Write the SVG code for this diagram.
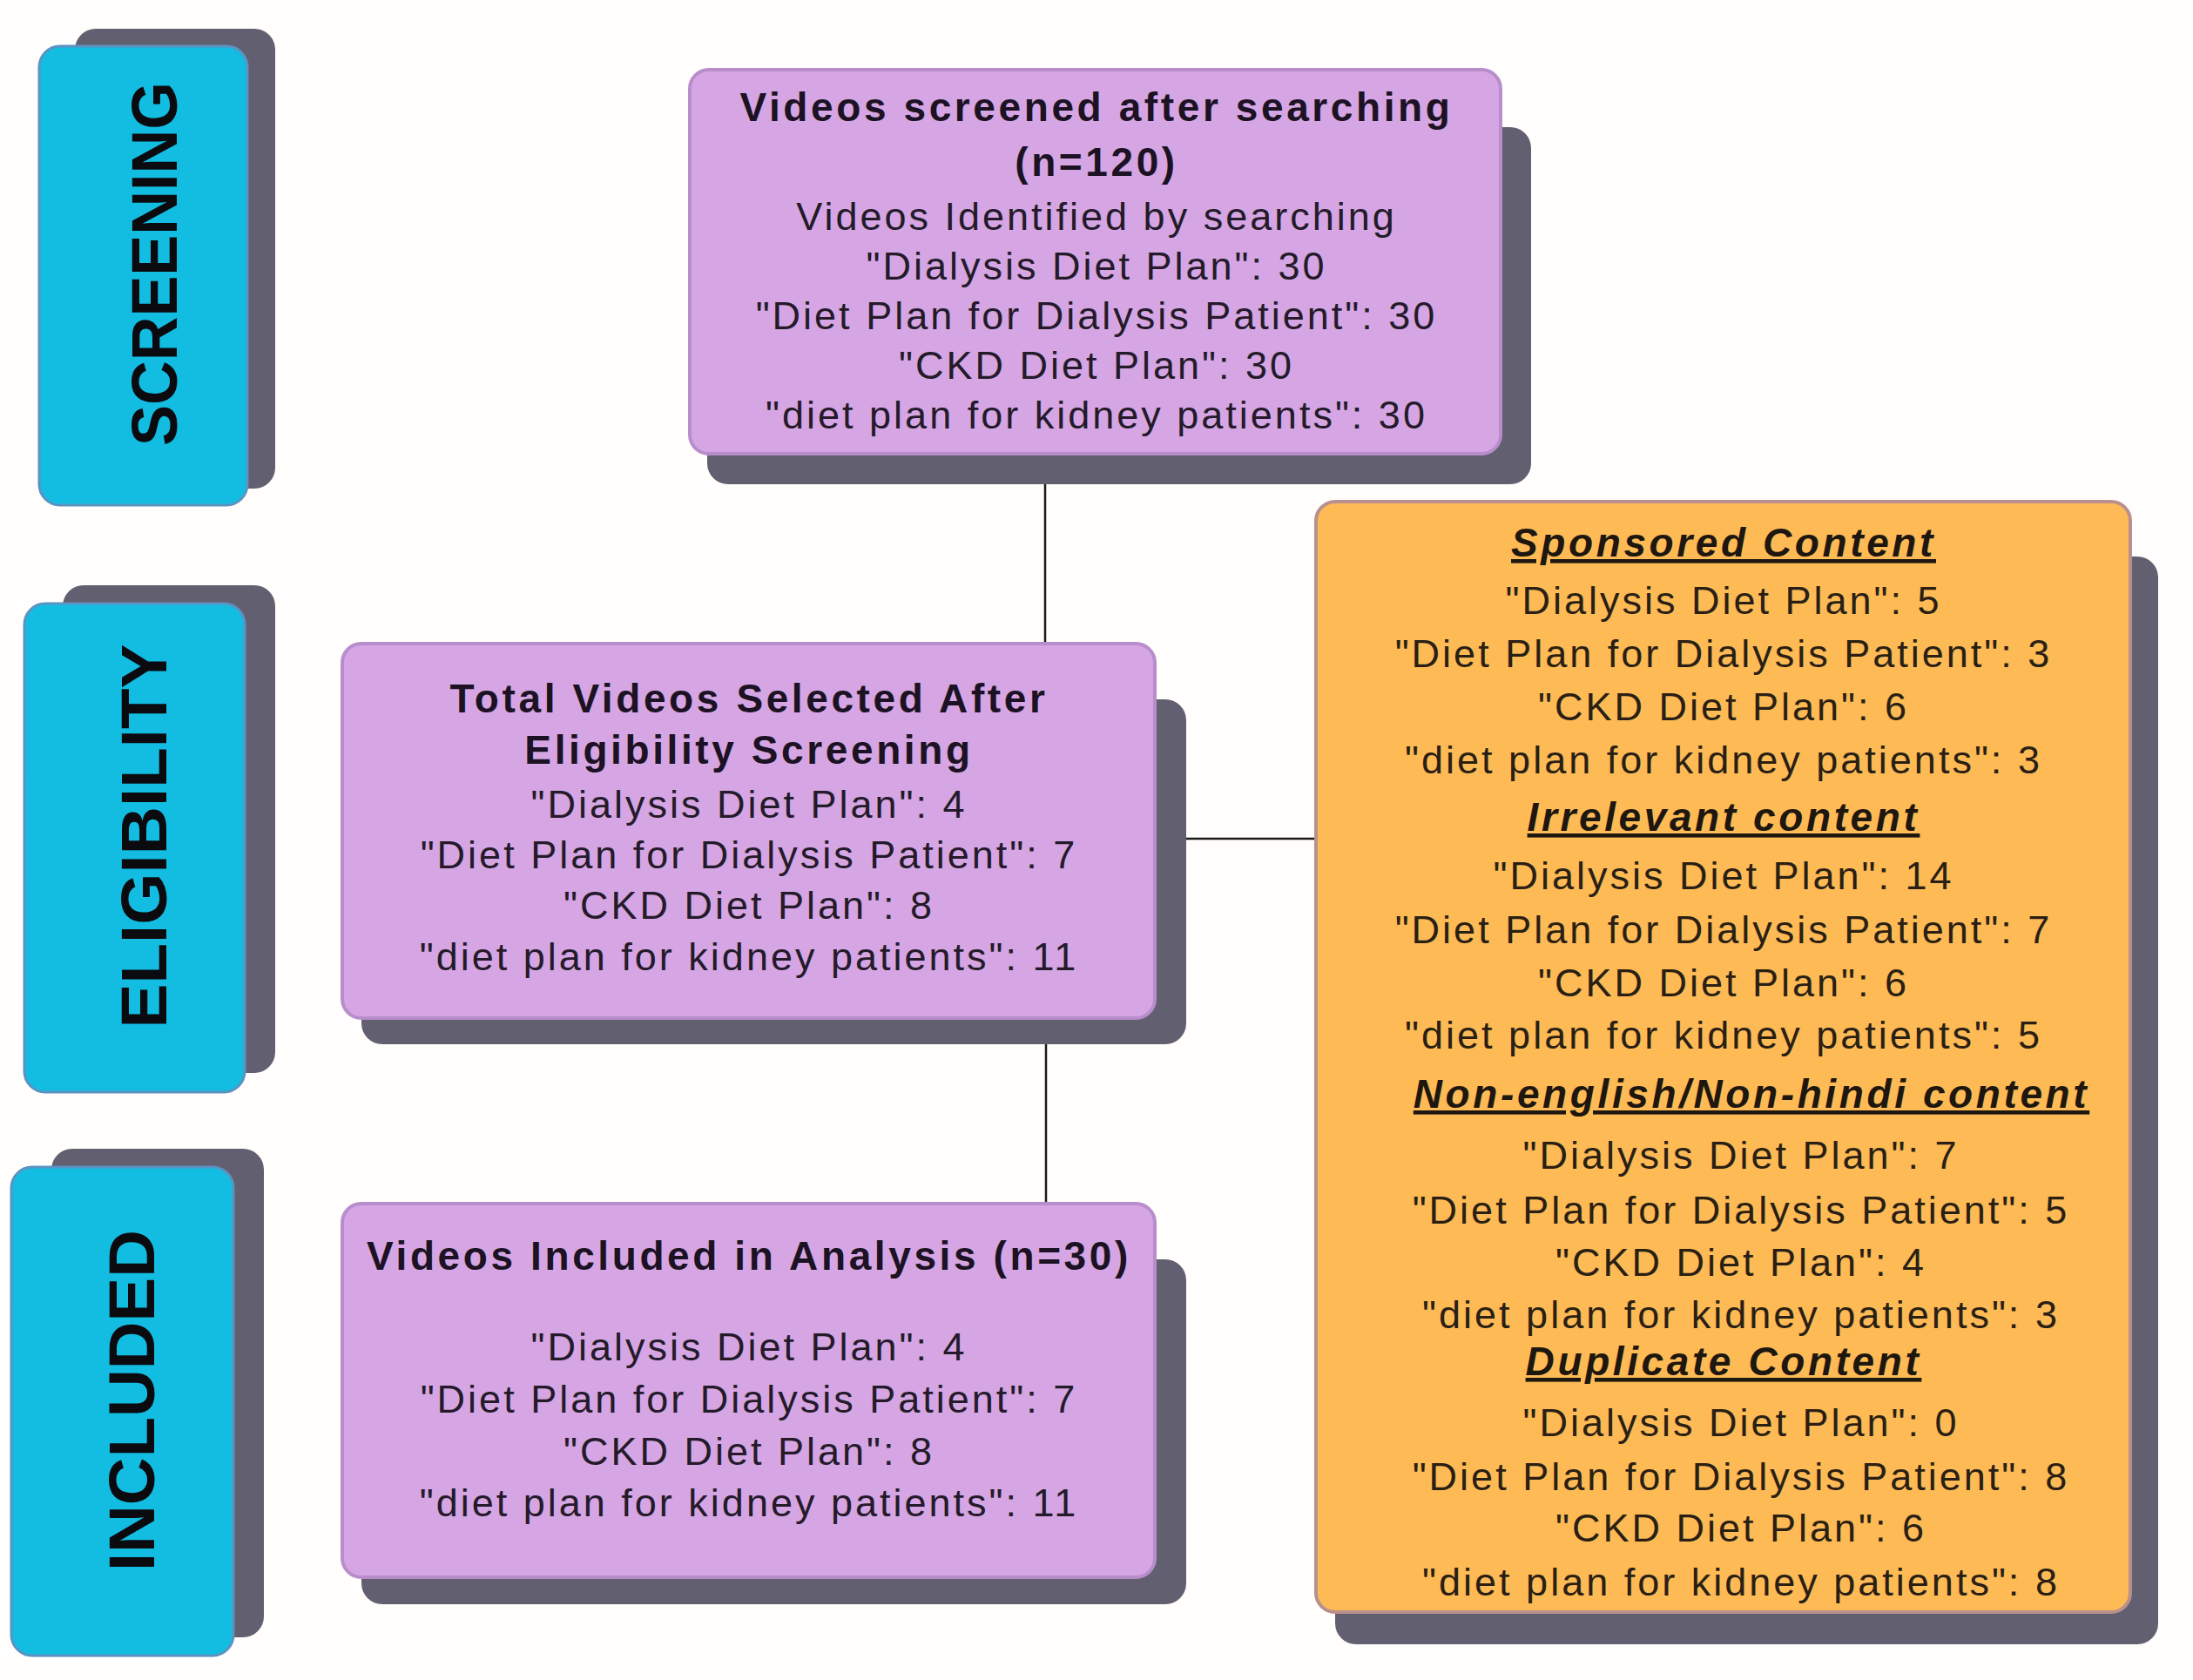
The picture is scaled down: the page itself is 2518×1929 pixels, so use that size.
<svg xmlns="http://www.w3.org/2000/svg" width="2518" height="1929" viewBox="0 0 2518 1929">
<style>
.bg{fill:#FFFEFC}
.sh{fill:#625F70}
.cy{fill:#13BDE1;stroke:#5B93C2;stroke-width:3}
.pu{fill:#D5A6E3;stroke:#B88DCB;stroke-width:4}
.or{fill:#FDBA55;stroke:#B9908C;stroke-width:4}
.lab{font-family:"Liberation Sans",Arial,sans-serif;font-weight:bold;font-size:74px;fill:#0A0A0F;text-anchor:middle}
.t{font-family:"Liberation Sans",Arial,sans-serif;font-weight:bold;font-size:46px;letter-spacing:3.6px;fill:#1C1224;text-anchor:middle}
.b{font-family:"Liberation Sans",Arial,sans-serif;font-size:45px;letter-spacing:3px;fill:#241A2A;text-anchor:middle}
.h{font-family:"Liberation Sans",Arial,sans-serif;font-weight:bold;font-style:italic;font-size:46px;letter-spacing:3.6px;fill:#1E1710;text-anchor:middle;text-decoration:underline}
.ob{font-family:"Liberation Sans",Arial,sans-serif;font-size:45px;letter-spacing:3px;fill:#2A1F14;text-anchor:middle}
.ln{stroke:#1A1A1A;stroke-width:2.5;fill:none}
</style>
<rect class="bg" x="0" y="0" width="2518" height="1929"/>
<g id="connectors">
<line class="ln" x1="1200" y1="521" x2="1200" y2="742"/>
<line class="ln" x1="1201" y1="1169" x2="1201" y2="1383"/>
<line class="ln" x1="1326" y1="963" x2="1512" y2="963"/>
</g>
<g id="label-screening">
<rect class="sh" x="86" y="33" width="230" height="528" rx="24"/>
<rect class="cy" x="45" y="53" width="239" height="527" rx="24"/>
<text class="lab" transform="translate(177,303) rotate(-90)" y="26" textLength="418" lengthAdjust="spacingAndGlyphs">SCREENING</text>
</g>
<g id="label-eligibility">
<rect class="sh" x="72" y="672" width="244" height="560" rx="24"/>
<rect class="cy" x="28" y="693" width="253" height="561" rx="24"/>
<text class="lab" transform="translate(165,960) rotate(-90)" y="26" textLength="441" lengthAdjust="spacingAndGlyphs">ELIGIBILITY</text>
</g>
<g id="label-included">
<rect class="sh" x="59" y="1319" width="244" height="561" rx="24"/>
<rect class="cy" x="13" y="1340" width="255" height="561" rx="24"/>
<text class="lab" transform="translate(151,1608) rotate(-90)" y="26" textLength="392" lengthAdjust="spacingAndGlyphs">INCLUDED</text>
</g>
<g id="node-screened">
<rect class="sh" x="812" y="146" width="946" height="410" rx="24"/>
<rect class="pu" x="792" y="80" width="931" height="441" rx="22"/>
<text class="t" x="1259" y="139">Videos screened after searching</text>
<text class="t" x="1259" y="202">(n=120)</text>
<text class="b" x="1259" y="264">Videos Identified by searching</text>
<text class="b" x="1259" y="321">"Dialysis Diet Plan": 30</text>
<text class="b" x="1259" y="378">"Diet Plan for Dialysis Patient": 30</text>
<text class="b" x="1259" y="435">"CKD Diet Plan": 30</text>
<text class="b" x="1259" y="492">"diet plan for kidney patients": 30</text>
</g>
<g id="node-eligibility">
<rect class="sh" x="415" y="803" width="947" height="396" rx="24"/>
<rect class="pu" x="393" y="739" width="933" height="430" rx="22"/>
<text class="t" x="860" y="818">Total Videos Selected After</text>
<text class="t" x="860" y="877">Eligibility Screening</text>
<text class="b" x="860" y="939">"Dialysis Diet Plan": 4</text>
<text class="b" x="860" y="997">"Diet Plan for Dialysis Patient": 7</text>
<text class="b" x="860" y="1055">"CKD Diet Plan": 8</text>
<text class="b" x="860" y="1114">"diet plan for kidney patients": 11</text>
</g>
<g id="node-included">
<rect class="sh" x="415" y="1446" width="947" height="396" rx="24"/>
<rect class="pu" x="393" y="1382" width="933" height="429" rx="22"/>
<text class="t" x="860" y="1458">Videos Included in Analysis (n=30)</text>
<text class="b" x="860" y="1562">"Dialysis Diet Plan": 4</text>
<text class="b" x="860" y="1622">"Diet Plan for Dialysis Patient": 7</text>
<text class="b" x="860" y="1682">"CKD Diet Plan": 8</text>
<text class="b" x="860" y="1741">"diet plan for kidney patients": 11</text>
</g>
<g id="node-excluded">
<rect class="sh" x="1533" y="639" width="945" height="1249" rx="24"/>
<rect class="or" x="1511" y="576" width="935" height="1275" rx="22"/>
<text class="h" x="1979" y="639">Sponsored Content</text>
<text class="ob" x="1979" y="705">"Dialysis Diet Plan": 5</text>
<text class="ob" x="1979" y="766">"Diet Plan for Dialysis Patient": 3</text>
<text class="ob" x="1979" y="827">"CKD Diet Plan": 6</text>
<text class="ob" x="1979" y="888">"diet plan for kidney patients": 3</text>
<text class="h" x="1979" y="954">Irrelevant content</text>
<text class="ob" x="1979" y="1021">"Dialysis Diet Plan": 14</text>
<text class="ob" x="1979" y="1083">"Diet Plan for Dialysis Patient": 7</text>
<text class="ob" x="1979" y="1144">"CKD Diet Plan": 6</text>
<text class="ob" x="1979" y="1204">"diet plan for kidney patients": 5</text>
<text class="h" x="2011" y="1272">Non-english/Non-hindi content</text>
<text class="ob" x="1999" y="1342">"Dialysis Diet Plan": 7</text>
<text class="ob" x="1999" y="1405">"Diet Plan for Dialysis Patient": 5</text>
<text class="ob" x="1999" y="1465">"CKD Diet Plan": 4</text>
<text class="ob" x="1999" y="1525">"diet plan for kidney patients": 3</text>
<text class="h" x="1979" y="1579">Duplicate Content</text>
<text class="ob" x="1999" y="1649">"Dialysis Diet Plan": 0</text>
<text class="ob" x="1999" y="1711">"Diet Plan for Dialysis Patient": 8</text>
<text class="ob" x="1999" y="1770">"CKD Diet Plan": 6</text>
<text class="ob" x="1999" y="1832">"diet plan for kidney patients": 8</text>
</g>
</svg>
